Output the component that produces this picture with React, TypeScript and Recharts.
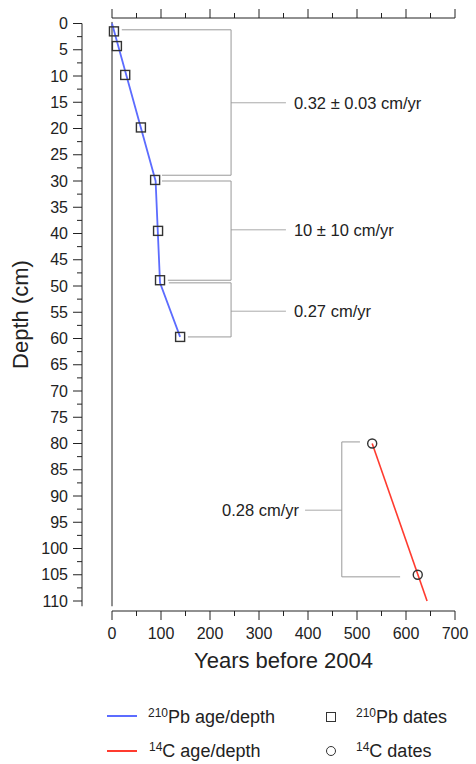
import {
  ComposedChart, Line, Scatter, XAxis, YAxis, ReferenceLine, Label
} from 'recharts'

const FONT = '"Liberation Sans", Arial, sans-serif'
const INK = '#222'
const BRACKET = '#999'
const BLUE = '#5c6cff'
const RED = '#ff3b2f'

// 210Pb dates: years before 2004 vs depth (cm)
const pbAges = [4, 10, 27, 59, 88, 94, 98, 139]
const pbDepths = [1.5, 4.3, 9.8, 19.8, 29.8, 39.5, 48.9, 59.7]
// 210Pb age/depth model
const pbModelAges = [0, 89, 98, 139]
const pbModelDepths = [0, 30, 49.4, 59.7]
// 14C dates
const cAges = [531, 624]
const cDepths = [80, 105]
// 14C age/depth model
const cModelAges = [531, 643]
const cModelDepths = [80, 110]

const ageTicks = [0, 50, 100, 150, 200, 250, 300, 350, 400, 450, 500, 550, 600, 650, 700]
const depthTicks = [
  0, 2.5, 5, 7.5, 10, 12.5, 15, 17.5, 20, 22.5, 25, 27.5, 30, 32.5, 35, 37.5, 40, 42.5,
  45, 47.5, 50, 52.5, 55, 57.5, 60, 62.5, 65, 67.5, 70, 72.5, 75, 77.5, 80, 82.5, 85,
  87.5, 90, 92.5, 95, 97.5, 100, 102.5, 105, 107.5, 110,
]

// sedimentation-rate brackets
const rateLabels = ['0.32 ± 0.03 cm/yr', '10 ± 10 cm/yr', '0.27 cm/yr', '0.28 cm/yr']
const rateTop = [1.2, 30, 49.4, 79.7]
const rateMid = [15.1, 39.3, 54.8, 92.7]
const rateBottom = [28.9, 48.9, 59.7, 105.4]
const rateSpine = [243, 243, 243, 469]
const rateTopFrom = [20, 102, 116, 506]
const rateBottomFrom = [102, 114, 155, 588]
const rateStickTo = [355, 355, 355, 394]

// left depth axis sits apart from the x = 0 line
const DEPTH_AXIS_AGE = -61.2
const AXIS_GAP = 30

const pbDates = pbAges.map((age, i) => ({ age, depth: pbDepths[i] }))
const pbModel = pbModelAges.map((age, i) => ({ age, depth: pbModelDepths[i] }))
const cDates = cAges.map((age, i) => ({ age, depth: cDepths[i] }))
const cModel = cModelAges.map((age, i) => ({ age, depth: cModelDepths[i] }))
// each bracket as one polyline: top arm, spine, bottom arm
const brackets = rateLabels.map((_, i) => [
  { age: rateTopFrom[i], depth: rateTop[i] },
  { age: rateSpine[i], depth: rateTop[i] },
  { age: rateSpine[i], depth: rateBottom[i] },
  { age: rateBottomFrom[i], depth: rateBottom[i] },
])

function AgeTick({ x, y, payload }: any) {
  const major = payload.value % 100 === 0
  return (
    <g>
      <line x1={x} x2={x} y1={y} y2={y + (major ? 9 : 5)} stroke={INK} />
      {major && (
        <text x={x} y={y + 28} textAnchor="middle" fill={INK} fontSize={16} fontFamily={FONT}>
          {payload.value}
        </text>
      )}
    </g>
  )
}

function TopTick({ x, y, payload }: any) {
  const major = payload.value % 100 === 0
  return (
    <g>
      <line x1={x} x2={x} y1={y} y2={y - (major ? 9 : 5)} stroke={INK} />
    </g>
  )
}

function DepthTick({ x, y, payload }: any) {
  const major = payload.value % 5 === 0
  const ax = x - AXIS_GAP
  return (
    <g>
      <line x1={ax - (major ? 9 : 5)} x2={ax} y1={y} y2={y} stroke={INK} />
      {major && (
        <text x={ax - 14} y={y} dy="0.35em" textAnchor="end" fill={INK} fontSize={16} fontFamily={FONT}>
          {payload.value}
        </text>
      )}
    </g>
  )
}

const Square = (p: any) => (
  <rect x={p.cx - 4.5} y={p.cy - 4.5} width={9} height={9} fill="none" stroke="#333" strokeWidth={1.4} />
)

const legendText = { position: 'absolute' as const, fontSize: 18, lineHeight: '18px', color: INK, whiteSpace: 'nowrap' as const }
const sup = { fontSize: 12, position: 'relative' as const, top: -6 }

export default function App() {
  return (
    <div style={{ position: 'absolute', left: 0, top: 0, width: 476, height: 764, background: '#fff', fontFamily: FONT }}>
      <ComposedChart width={476} height={690} margin={{ top: 0, right: 21, bottom: 19, left: 0 }}>
        <XAxis
          dataKey="age" type="number" domain={[0, 700]} ticks={ageTicks} interval={0}
          height={60} tickSize={0} tickMargin={0} tickLine={false} tick={<AgeTick />}
          axisLine={{ stroke: INK }}
        >
          <Label value="Years before 2004" position="insideBottom" offset={3}
            fill={INK} fontSize={22} fontFamily={FONT} />
        </XAxis>
        <XAxis
          xAxisId="top" orientation="top" dataKey="age" type="number" domain={[0, 700]}
          ticks={ageTicks} interval={0} height={18} tickSize={0} tickMargin={0}
          tickLine={false} tick={<TopTick />} axisLine={{ stroke: INK }}
        />
        <YAxis
          dataKey="depth" type="number" domain={[0, 110]} reversed ticks={depthTicks}
          interval={0} width={112} padding={{ top: 5.5, bottom: 10 }} tickSize={0}
          tickMargin={0} tickLine={false} axisLine={false} tick={<DepthTick />}
        >
          <Label value="Depth (cm)" angle={-90} position="insideLeft" offset={20}
            fill={INK} fontSize={22} fontFamily={FONT} style={{ textAnchor: 'middle' }} />
        </YAxis>

        <ReferenceLine segment={[{ x: 0, y: -0.3 }, { x: 0, y: 111 }]} stroke={INK} ifOverflow="visible" />
        <ReferenceLine segment={[{ x: DEPTH_AXIS_AGE, y: 0 }, { x: DEPTH_AXIS_AGE, y: 111 }]}
          stroke={INK} ifOverflow="visible" />

        {rateLabels.map((text, i) => (
          <ReferenceLine key={`m${i}`} segment={[{ x: rateSpine[i], y: rateMid[i] }, { x: rateStickTo[i], y: rateMid[i] }]}
            stroke="#aaa" ifOverflow="visible"
            label={{ value: text, position: i === 3 ? 'left' : 'right', offset: i === 3 ? 6 : 8,
              fill: INK, fontSize: 16.5, fontFamily: FONT }} />
        ))}
        {brackets.map((pts, i) => (
          <Line key={`br${i}`} data={pts} dataKey="depth" stroke={BRACKET} strokeWidth={1}
            dot={false} activeDot={false} isAnimationActive={false} />
        ))}

        <Line data={pbModel} dataKey="depth" stroke={BLUE} strokeWidth={1.8} dot={false}
          isAnimationActive={false} />
        <Line xAxisId="top" data={cModel} dataKey="depth" stroke={RED} strokeWidth={1.6} dot={false}
          isAnimationActive={false} />
        <Scatter data={pbDates} shape={Square} isAnimationActive={false} />
        <Scatter xAxisId="top" data={cDates} fill="none" stroke="#333" strokeWidth={1.4}
          isAnimationActive={false} />
      </ComposedChart>

      {/* legend */}
      <div style={{ position: 'absolute', left: 107, top: 715, width: 30, height: 2, background: BLUE }} />
      <div style={{ ...legendText, left: 148, top: 708 }}><span style={sup}>210</span>Pb age/depth</div>
      <div style={{ position: 'absolute', left: 107, top: 750, width: 30, height: 2, background: RED }} />
      <div style={{ ...legendText, left: 149, top: 742 }}><span style={sup}>14</span>C age/depth</div>
      <div style={{ position: 'absolute', left: 326, top: 712, width: 10, height: 10, border: '1.4px solid #333', boxSizing: 'border-box' }} />
      <div style={{ ...legendText, left: 356, top: 708 }}><span style={sup}>210</span>Pb dates</div>
      <div style={{ position: 'absolute', left: 326, top: 746, width: 10, height: 10, border: '1.4px solid #333', borderRadius: '50%', boxSizing: 'border-box' }} />
      <div style={{ ...legendText, left: 356, top: 742 }}><span style={sup}>14</span>C dates</div>
    </div>
  )
}
